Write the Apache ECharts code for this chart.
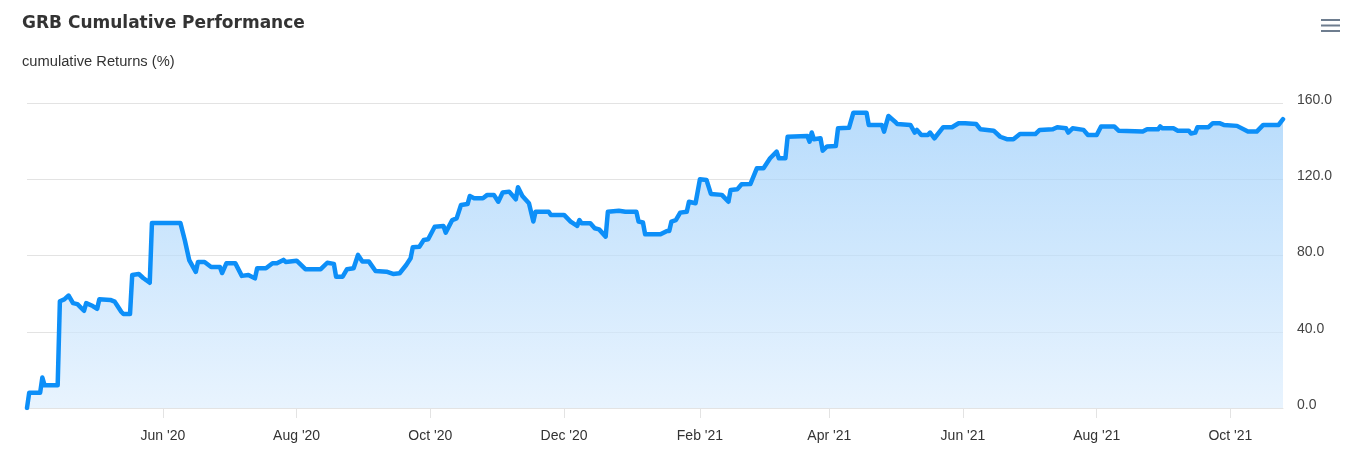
<!DOCTYPE html>
<html>
<head>
<meta charset="utf-8">
<script src="https://cdn.jsdelivr.net/npm/echarts@6/dist/echarts.min.js"></script>
<style>
html,body{margin:0;padding:0;background:#fff;}
#chart{width:1346px;height:461px;}
</style>
</head>
<body>
<div id="chart"></div>
<script>
const dates = [
'2020-03-31','2020-04-01','2020-04-06','2020-04-07','2020-04-08','2020-04-14','2020-04-15','2020-04-17','2020-04-19','2020-04-21',
'2020-04-23','2020-04-26','2020-04-27','2020-04-30','2020-05-02','2020-05-03','2020-05-08','2020-05-10','2020-05-11','2020-05-13',
'2020-05-14','2020-05-17','2020-05-18','2020-05-21','2020-05-23','2020-05-26','2020-05-27','2020-06-09','2020-06-11','2020-06-13',
'2020-06-16','2020-06-17','2020-06-20','2020-06-23','2020-06-27','2020-06-28','2020-06-30','2020-07-04','2020-07-07','2020-07-10',
'2020-07-13','2020-07-14','2020-07-18','2020-07-21','2020-07-23','2020-07-26','2020-07-27','2020-08-01','2020-08-05','2020-08-12',
'2020-08-15','2020-08-18','2020-08-19','2020-08-22','2020-08-24','2020-08-27','2020-08-29','2020-08-31','2020-09-03','2020-09-06',
'2020-09-11','2020-09-14','2020-09-17','2020-09-20','2020-09-22','2020-09-23','2020-09-26','2020-09-28','2020-09-30','2020-10-03',
'2020-10-07','2020-10-08','2020-10-11','2020-10-13','2020-10-15','2020-10-18','2020-10-19','2020-10-21','2020-10-25','2020-10-27',
'2020-10-30','2020-11-01','2020-11-03','2020-11-06','2020-11-09','2020-11-10','2020-11-12','2020-11-15','2020-11-17','2020-11-18',
'2020-11-24','2020-11-25','2020-12-01','2020-12-04','2020-12-07','2020-12-08','2020-12-09','2020-12-13','2020-12-15','2020-12-17',
'2020-12-20','2020-12-21','2020-12-26','2020-12-29','2021-01-03','2021-01-04','2021-01-06','2021-01-07','2021-01-14','2021-01-17',
'2021-01-18','2021-01-19','2021-01-21','2021-01-23','2021-01-26','2021-01-27','2021-01-30','2021-02-01','2021-02-04','2021-02-06',
'2021-02-11','2021-02-14','2021-02-15','2021-02-18','2021-02-20','2021-02-24','2021-02-27','2021-03-02','2021-03-05','2021-03-08',
'2021-03-09','2021-03-12','2021-03-13','2021-03-22','2021-03-23','2021-03-24','2021-03-25','2021-03-28','2021-03-29','2021-03-31',
'2021-04-04','2021-04-05','2021-04-10','2021-04-12','2021-04-18','2021-04-19','2021-04-25','2021-04-26','2021-04-28','2021-05-01',
'2021-05-02','2021-05-08','2021-05-10','2021-05-11','2021-05-13','2021-05-16','2021-05-17','2021-05-19','2021-05-23','2021-05-27',
'2021-05-30','2021-06-02','2021-06-07','2021-06-09','2021-06-15','2021-06-18','2021-06-21','2021-06-24','2021-06-27','2021-07-04',
'2021-07-06','2021-07-12','2021-07-14','2021-07-18','2021-07-19','2021-07-21','2021-07-26','2021-07-28','2021-08-01','2021-08-03',
'2021-08-09','2021-08-11','2021-08-22','2021-08-24','2021-08-29','2021-08-30','2021-08-31','2021-09-05','2021-09-07','2021-09-12',
'2021-09-13','2021-09-15','2021-09-16','2021-09-21','2021-09-23','2021-09-26','2021-09-28','2021-10-04','2021-10-09','2021-10-13',
'2021-10-16','2021-10-23','2021-10-25'
];
const returnsPct = [
0,8,8,16,12,12,56,57,59,55,
54.5,51,55,53.5,52,57,56.7,55.8,54,50.5,
49.3,49.3,69.8,70.3,68.2,65.7,97,97,88,77.6,
71.4,76.6,76.6,74,74,70.8,76,76,69.3,69.8,
68,73.3,73.3,75.9,75.9,77.7,76.6,77.3,72.8,72.8,
76.2,75.6,68.9,68.9,72.8,73.3,80.3,76.8,76.8,71.9,
71.5,70.3,70.7,75,78.5,84.3,84.6,88.1,88.5,95.1,
95.5,92,98.6,99.5,106.5,107,111.2,110,110,111.8,
111.8,108.2,113,113.5,109.5,115.8,111.2,107.4,97.8,103,
103,101.3,101.3,97.8,95.5,98.6,96.9,96.9,94.3,93.7,
89.9,103,103.5,103,103,97.8,97.3,91.1,91.1,92.9,
92.9,97.8,98.6,102.5,103,108.2,107.4,120,119.6,112.3,
111.8,108.2,114.4,114.7,117.4,117.5,125.8,125.8,131,134.5,
131,131,142.3,142.7,139.7,144.5,141,141.5,135,137.2,
137.5,146.7,147,154.9,154.9,148.5,148.5,145,153.2,150.2,
149,148.5,144.5,145.9,143.2,143.2,144.5,141.5,147.3,147.3,
149.4,149.4,149,146.2,145.5,142.3,141,141,143.7,143.7,
145.9,146.2,147.3,146.7,144.5,146.7,145.9,143.2,143.2,147.7,
147.7,145.5,145,146.2,146.2,147.7,146.7,146.7,145.5,145.5,
144,144.5,147.3,147.3,149.4,149.4,148.5,148,145,145,
148.5,148.5,151.5
];
const xTickDates = ['2020-06-01','2020-08-01','2020-10-01','2020-12-01','2021-02-01','2021-04-01','2021-06-01','2021-08-01','2021-10-01'];
const xTickLabels = ["Jun '20","Aug '20","Oct '20","Dec '20","Feb '21","Apr '21","Jun '21","Aug '21","Oct '21"];
const yTicks = [0, 40, 80, 120, 160];

const ts = d => { const p = d.split('-').map(Number); return Date.UTC(p[0], p[1]-1, p[2]); };
const tickTs = xTickDates.map(ts);
const labelMap = {};
tickTs.forEach((t,i)=>{ labelMap[t] = xTickLabels[i]; });
const seriesData = dates.map((d,i)=>[ts(d), returnsPct[i]]);

const chart = echarts.init(document.getElementById('chart'), null, {renderer:'canvas'});
chart.setOption({
  animation:false,
  title:[{
    text:'GRB Cumulative Performance',
    left:22, top:15, padding:0,
    textStyle:{fontFamily:'DejaVu Sans, sans-serif', fontSize:17, fontWeight:'bold', color:'#333333'}
  },{
    text:'cumulative Returns (%)',
    left:22, top:54, padding:0,
    textStyle:{fontFamily:'Liberation Sans, Arial, sans-serif', fontSize:14.7, fontWeight:'normal', color:'#333333'}
  }],
  grid:{left:27, right:63, top:103, bottom:53, containLabel:false},
  xAxis:{
    type:'value',
    min:ts(dates[0]), max:ts(dates[dates.length-1]),
    axisLine:{show:true, lineStyle:{color:'#e3e3e3', width:1}},
    axisTick:{show:true, length:10, lineStyle:{color:'#e3e3e3'}, customValues:tickTs},
    axisLabel:{
      customValues:tickTs,
      formatter:function(v){ return labelMap[v] !== undefined ? labelMap[v] : ''; },
      color:'#333333', fontFamily:'Liberation Sans, Arial, sans-serif', fontSize:14, margin:21
    },
    splitLine:{show:false}
  },
  yAxis:{
    type:'value',
    position:'right',
    min:yTicks[0], max:yTicks[yTicks.length-1], interval:40,
    axisLine:{show:false}, axisTick:{show:false},
    axisLabel:{
      formatter:function(v){ return v.toFixed(1); },
      color:'#444444', fontFamily:'Liberation Sans, Arial, sans-serif', fontSize:14, margin:14, align:'left',
      verticalAlign:'bottom', lineHeight:6
    },
    splitLine:{lineStyle:{color:'#e3e3e3', width:1}}
  },
  graphic:[
    {type:'rect', left:1321, top:19, shape:{width:19, height:2}, style:{fill:'#6e7d8f'}},
    {type:'rect', left:1321, top:24.5, shape:{width:19, height:2}, style:{fill:'#6e7d8f'}},
    {type:'rect', left:1321, top:30, shape:{width:19, height:2}, style:{fill:'#6e7d8f'}}
  ],
  series:[{
    type:'line',
    data:seriesData,
    showSymbol:false,
    lineStyle:{color:'#0d8ff8', width:4.5, cap:'round', join:'round'},
    itemStyle:{color:'#0d8ff8'},
    areaStyle:{
      color:new echarts.graphic.LinearGradient(0,0,0,1,[
        {offset:0, color:'#9acdfa'},
        {offset:1, color:'#deeefd'}
      ])
    }
  }]
});
</script>
</body>
</html>
